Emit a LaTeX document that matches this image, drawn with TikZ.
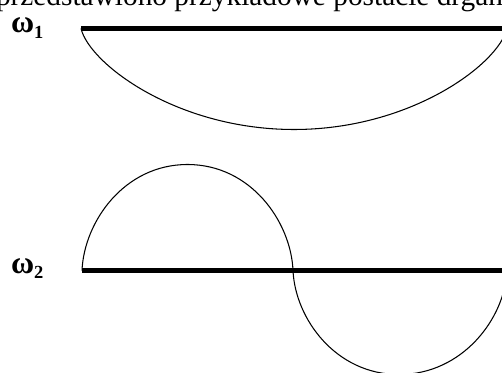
\documentclass[tikz,border=0pt]{standalone}
\usepackage{fontspec}
\setmainfont{Liberation Serif}

\begin{document}
\begin{tikzpicture}[
  x=0.02cm,y=0.02cm,
  every node/.style={inner sep=0pt,outer sep=0pt},
  axisline/.style={line width=2.6pt,color=black},
  mode/.style={line width=0.6pt,color=black},
  freq/.style={font=\fontsize{18}{20}\selectfont\bfseries,anchor=base west}
]
\useasboundingbox (0,0) rectangle (502,372);
\clip (0,0) rectangle (502,372);
\node[anchor=base west,font=\fontsize{16.7}{18}\selectfont] (caption) at (-4,366) {przedstawiono przykładowe postacie drgań};
\coordinate (a1) at (81,343.5);
\coordinate (b1) at (507,343.5);
\coordinate (a2) at (82,101.5);
\coordinate (b2) at (507,101.5);
\node[freq] (w1) at (11,339) {ω\raisebox{-3.4pt}{\fontsize{10.5}{11}\selectfont 1}};
\node[freq] (w2) at (11,99) {ω\raisebox{-3.4pt}{\fontsize{10.5}{11}\selectfont 2}};
\draw[mode] (a1) .. controls +(8.5,-35.4) and +(-117.2,0) .. ++(213,-101)
  .. controls +(117.2,0) and +(-8.5,-35.4) .. (b1);
\draw[mode] (a2) .. controls +(2.1,48.8) and +(-63.3,0) .. ++(105.5,106)
  .. controls +(63.3,0) and +(-2.1,48.8) .. ++(105.5,-106)
  .. controls +(2.1,-47.8) and +(-63.6,0) .. ++(106,-104)
  .. controls +(63.6,0) and +(-2.1,-47.8) .. (b2);
\draw[axisline] (a1) -- (b1);
\draw[axisline] (a2) -- (b2);
\end{tikzpicture}
\end{document}
